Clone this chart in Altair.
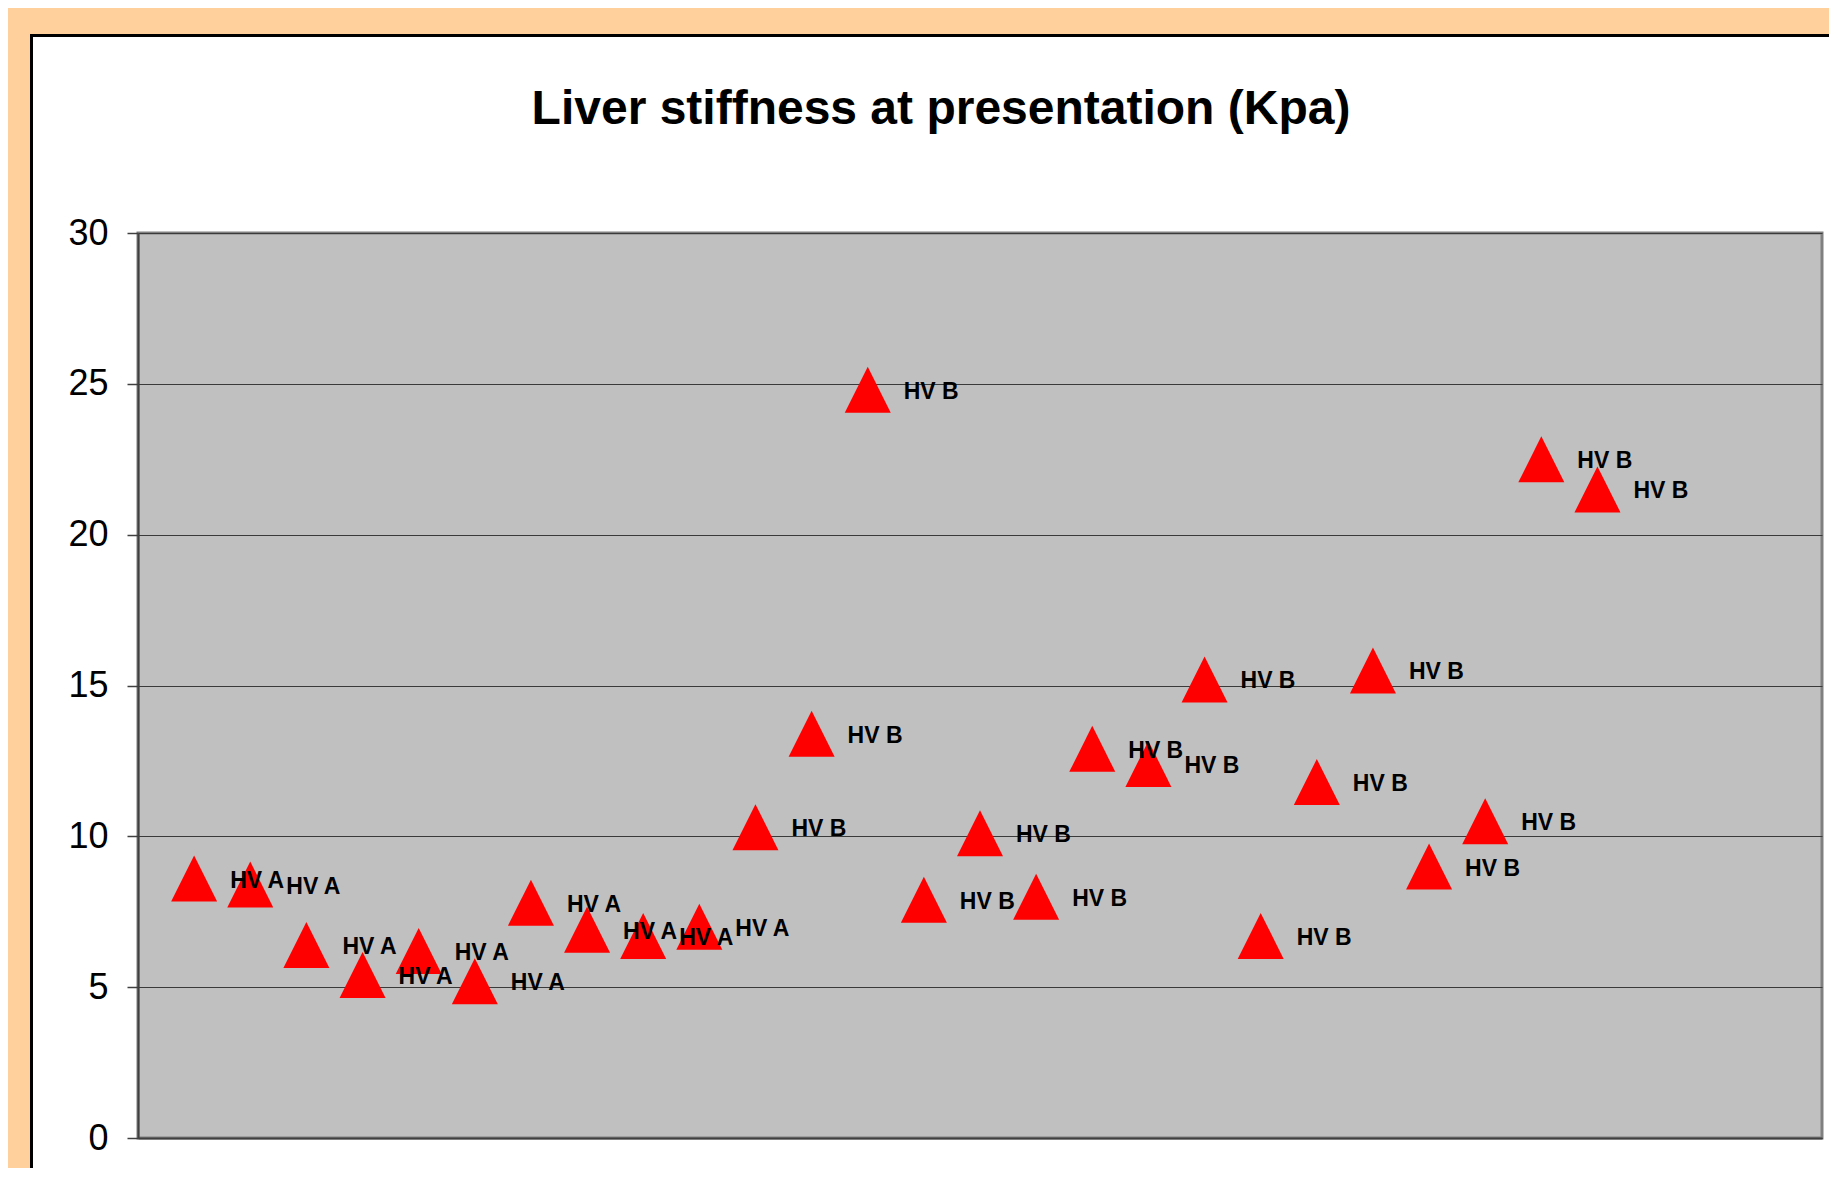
import altair as alt
import pandas as pd

# ---- data ----
patients = [1, 2, 3, 4, 5, 6, 7, 8, 9, 10, 11, 12, 13, 14, 15, 16, 17, 18, 19, 20, 21, 22, 23, 24, 25, 26]
stiffness = [8.6, 8.4, 6.4, 5.4, 6.2, 5.2, 7.8, 6.9, 6.7, 7.0,
             10.3, 13.4, 24.8, 7.9, 10.1, 8.0, 12.9, 12.4, 15.2, 6.7,
             11.8, 15.5, 9.0, 10.5, 22.5, 21.5]
groups = ["HV A", "HV A", "HV A", "HV A", "HV A", "HV A", "HV A", "HV A", "HV A", "HV A",
          "HV B", "HV B", "HV B", "HV B", "HV B", "HV B", "HV B", "HV B", "HV B", "HV B",
          "HV B", "HV B", "HV B", "HV B", "HV B", "HV B"]
y_ticks = [0, 5, 10, 15, 20, 25, 30]
title_text = "Liver stiffness at presentation (Kpa)"

df = pd.DataFrame({"patient": patients, "kpa": stiffness, "group": groups})

W, H = 1684, 905
ORANGE = "#FFD09C"
FONT = "Liberation Sans"

x_enc = alt.X("patient:Q", scale=alt.Scale(domain=[0, 30], nice=False),
              axis=alt.Axis(labels=False, ticks=False, grid=False, title=None,
                            domainColor="#404040", domainWidth=2))
y_enc = alt.Y("kpa:Q", scale=alt.Scale(domain=[0, 30], nice=False),
              axis=alt.Axis(values=y_ticks, title=None, labelFontSize=36, labelFont=FONT,
                            labelColor="black", tickSize=11, tickColor="#404040", tickWidth=1.5,
                            labelPadding=19, gridColor="#3a3a3a", gridWidth=1,
                            domainColor="#404040", domainWidth=2))

points = alt.Chart(df).mark_point(
    shape="M0,-1L1,1L-1,1Z", size=2116, filled=True, fill="#FF0000",
    opacity=1, strokeWidth=0
).encode(x=x_enc, y=y_enc)

labels = alt.Chart(df).mark_text(
    align="left", baseline="middle", dx=36, dy=2, fontSize=23, fontWeight="bold",
    font=FONT, color="black"
).encode(x=x_enc, y=y_enc, text="group:N")

one = pd.DataFrame({"k": [0]})


def band(x1, x2, y1, y2, color):
    return alt.Chart(one).mark_rect(color=color, strokeWidth=0).encode(
        x=alt.value(x1), x2=alt.value(x2), y=alt.value(y1), y2=alt.value(y2))


top_strip = band(-130, W + 7, -225, -199, ORANGE)
left_strip = band(-130, -108, -225, H + 31, ORANGE)
top_border = band(-108, W + 7, -199, -196, "black")
left_border = band(-108, -105, -199, H + 31, "black")

title = alt.Chart(pd.DataFrame({"t": [title_text]})).mark_text(
    font=FONT, fontSize=48, fontWeight="bold", color="black",
    align="center", baseline="alphabetic"
).encode(x=alt.value(803), y=alt.value(-109), text="t:N")

chart = alt.layer(
    top_strip, left_strip, top_border, left_border, title, points, labels
).properties(
    width=W, height=H,
    padding={"left": 130, "top": 225, "right": 7, "bottom": 30},
    autosize=alt.AutoSizeParams(type="none"),
    background="white",
).configure_view(fill="#C0C0C0", stroke="#808080", strokeWidth=3)

chart.save("out.html", embed_options={"renderer": "svg", "actions": False})
